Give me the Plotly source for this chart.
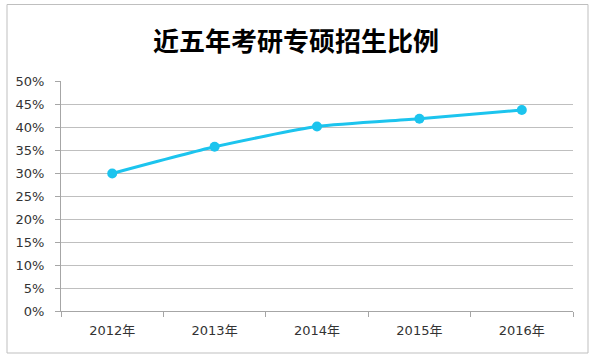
import plotly.graph_objects as go

years = ["2012年", "2013年", "2014年", "2015年", "2016年"]
ratios = [0.299, 0.357, 0.401, 0.418, 0.437]
y_ticks = [0, 0.05, 0.10, 0.15, 0.20, 0.25, 0.30, 0.35, 0.40, 0.45, 0.50]
y_tick_labels = ["0%", "5%", "10%", "15%", "20%", "25%", "30%", "35%", "40%", "45%", "50%"]
title_text = "近五年考研专硕招生比例"

fig = go.Figure()
fig.add_trace(go.Scatter(
    x=years, y=ratios, mode="lines+markers",
    line=dict(color="#1CC4EE", width=3, shape="spline", smoothing=0.6),
    marker=dict(color="#1CC4EE", size=10),
    showlegend=False, hoverinfo="skip",
))

font_family = "DejaVu Sans, Noto Sans CJK SC, sans-serif"
fig.update_layout(
    width=592, height=357,
    margin=dict(l=61, r=19, t=81, b=46),
    paper_bgcolor="white", plot_bgcolor="white",
    title=dict(text=title_text, x=(61 + 235) / 592, xanchor="center", y=1 - 42/357, yanchor="middle",
               font=dict(family="Noto Sans CJK SC", size=26, color="#000000", weight="bold")),
    xaxis=dict(type="category", range=[-0.5, 4.5], showgrid=False,
               showline=True, linecolor="#A6A6A6", linewidth=1,
               ticks="outside", tickson="boundaries", ticklen=5, tickcolor="#A6A6A6",
               ticklabelstandoff=7,
               tickfont=dict(family=font_family, size=13, color="#333333")),
    yaxis=dict(range=[0, 0.5], tickvals=y_ticks, ticktext=y_tick_labels,
               showgrid=True, gridcolor="#BFBFBF", gridwidth=1,
               showline=True, linecolor="#A6A6A6", linewidth=1,
               ticks="outside", ticklen=5, tickcolor="#A6A6A6", zeroline=False,
               ticklabelstandoff=8,
               tickfont=dict(family=font_family, size=13, color="#333333")),
    shapes=[dict(type="rect", xref="paper", yref="paper",
                 x0=-54/512, x1=1 + 15/512, y0=-42/230, y1=1 + 76.5/230,
                 line=dict(color="#BFBFBF", width=1), fillcolor="rgba(0,0,0,0)", layer="below")],
)

fig.write_html("out.html", config={"displayModeBar": False},
               post_script="document.body.style.margin='0px';document.body.style.overflow='hidden';")
